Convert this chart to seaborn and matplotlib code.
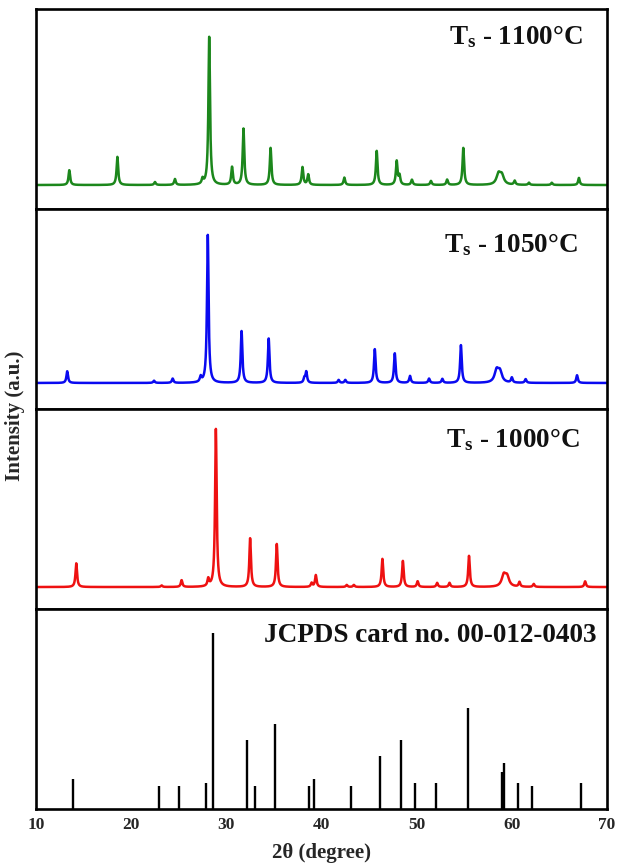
import numpy as np
import pandas as pd
import seaborn as sns
import matplotlib.pyplot as plt

# ---------------- data ----------------
x_ticks = [10, 20, 30, 40, 50, 60, 70]
panel_labels = ["T$_\\mathregular{s}$ - 1100°C", "T$_\\mathregular{s}$ - 1050°C",
                "T$_\\mathregular{s}$ - 1000°C", "JCPDS card no. 00-012-0403"]

# Ts = 1100 °C (green): peak positions (2θ) and relative intensities
pos_1100 = [13.5, 18.55, 22.5, 24.6, 27.5, 28.2, 30.6, 31.8, 34.65, 38.0, 38.6, 42.4,
            45.8, 47.9, 48.2, 49.5, 51.5, 53.2, 54.9, 58.6, 58.95, 60.3, 61.8, 64.2, 67.05]
int_1100 = [10, 19, 2, 4, 3.5, 100, 12, 38, 25, 12, 7, 5,
            23, 16, 6, 3.5, 2.7, 3.6, 25, 7, 6, 2.7, 1.5, 1.5, 4.8]

# Ts = 1050 °C (blue)
pos_1050 = [13.28, 22.4, 24.36, 27.3, 28.05, 31.6, 34.45, 38.2, 38.4, 41.8, 42.5,
            45.6, 47.7, 49.3, 51.3, 52.7, 54.65, 58.4, 58.75, 60.0, 61.45, 66.85]
int_1050 = [7.9, 1.5, 2.9, 3.6, 100, 35, 30, 3, 7.4, 2, 2,
            22.8, 20, 4.7, 2.9, 2.7, 25.5, 8, 7, 3.4, 2.5, 5.2]

# Ts = 1000 °C (red)
pos_1000 = [14.23, 23.2, 25.3, 28.1, 28.9, 32.5, 35.3, 38.96, 39.4, 42.65, 43.4,
            46.4, 48.55, 50.1, 52.15, 53.45, 55.5, 59.15, 59.5, 60.8, 62.3, 67.7]
int_1000 = [15, 1, 4.3, 4.7, 100, 30.8, 27.2, 2.5, 7.5, 1.3, 1.3,
            17.8, 16.5, 3.6, 2.6, 2.6, 19.7, 7, 6, 3, 1.9, 3.6]

# JCPDS reference card 00-012-0403 (stick pattern)
pos_jcpds = [13.9, 22.9, 25.0, 27.9, 28.6, 32.2, 33.0, 35.1, 38.7, 39.2, 43.1,
             46.1, 48.4, 49.8, 52.0, 55.35, 59.0, 59.2, 60.7, 62.1, 67.3]
int_jcpds = [17, 13, 13, 15, 100, 39, 13, 48, 13, 17, 13,
             30, 39, 15, 15, 57, 21, 26, 15, 13, 15]

# ---------------- style ----------------
sns.set_theme(style="white")
plt.rcParams['font.family'] = ['Liberation Serif', 'DejaVu Serif']
plt.rcParams['font.weight'] = 'bold'
plt.rcParams['mathtext.default'] = 'bf'
plt.rcParams['mathtext.fontset'] = 'custom'
plt.rcParams['mathtext.bf'] = 'Liberation Serif:bold'
plt.rcParams['mathtext.rm'] = 'Liberation Serif:bold'


def profile(grid, pos, inten):
    y = np.zeros_like(grid)
    for p, h in zip(pos, inten):
        w = 0.25 if 58 < p < 60 else 0.1
        y += h / (1.0 + ((grid - p) / w) ** 2)
    return y


grid = np.arange(10, 70.0001, 0.01)

fig = plt.figure(figsize=(6.18, 8.67), dpi=100)
gs = fig.add_gridspec(4, 1, left=36 / 618, right=607 / 618,
                      top=1 - 9 / 867, bottom=1 - 809 / 867, hspace=0)
axes = [fig.add_subplot(gs[i]) for i in range(4)]

series = [(pos_1100, int_1100, "#1c871c", (-16.2, 118.9)),
          (pos_1050, int_1050, "#0a0af0", (-17.6, 117.6)),
          (pos_1000, int_1000, "#ee1111", (-13.9, 112.7))]

for ax, (p, h, col, yl) in zip(axes[:3], series):
    df = pd.DataFrame({"2theta": grid, "I": profile(grid, p, h)})
    sns.lineplot(data=df, x="2theta", y="I", color=col, lw=1.8, ax=ax)
    ax.set_ylim(*yl)

ax4 = axes[3]
ax4.vlines(pos_jcpds, 0, int_jcpds, color="black", lw=1.7)
ax4.set_ylim(0, 113.4)

label_pos = [(0.958, 0.86), (0.948, 0.82), (0.952, 0.845), (0.982, 0.87)]
for ax, lab, (tx, ty) in zip(axes, panel_labels, label_pos):
    ax.set_xlim(10, 70)
    ax.set_yticks([])
    ax.set_ylabel("")
    ax.set_xlabel("")
    for s in ax.spines.values():
        s.set_linewidth(1.9)
        s.set_color("black")
    ax.text(tx, ty, lab, transform=ax.transAxes, ha="right", va="center",
            fontsize=19.5, fontweight="bold", color="#111111",
            bbox=dict(facecolor="white", edgecolor="none", pad=1))

for ax in axes[:3]:
    ax.set_xticks(x_ticks)
    ax.tick_params(axis="x", labelbottom=False, length=0)

ax4.set_xticks(x_ticks)
ax4.set_xticklabels([str(t) for t in x_ticks])
ax4.tick_params(axis="x", length=0, pad=6, labelsize=12.5)
for t in ax4.get_xticklabels():
    t.set_fontweight("bold")
ax4.set_xlabel("2θ (degree)", fontsize=15, fontweight="bold", labelpad=7)

fig.text(15 / 618, 1 - 416 / 867, "Intensity (a.u.)", rotation=90,
         ha="center", va="center", fontsize=15, fontweight="bold")

fig.savefig("out.png", dpi=100)
